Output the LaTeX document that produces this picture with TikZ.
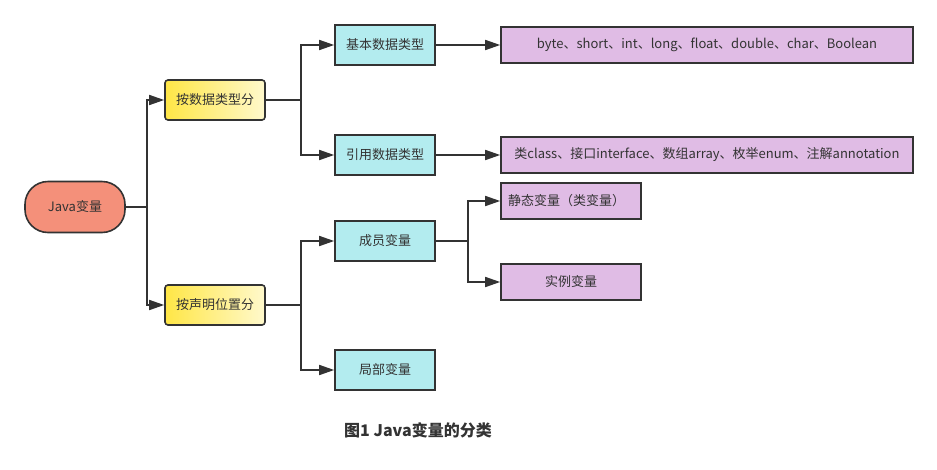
\documentclass[tikz,border=0pt]{standalone}
\usepackage{fontspec}
\setmainfont{Noto Sans CJK SC}
\usepackage{tikz}
\usetikzlibrary{arrows.meta,positioning}
\definecolor{lnc}{HTML}{333333}
\definecolor{rootc}{HTML}{F4907A}
\definecolor{ylwa}{HTML}{FFE646}
\definecolor{ylwb}{HTML}{FFF9CC}
\definecolor{cyanc}{HTML}{B3ECEF}
\definecolor{purpc}{HTML}{E0BCE5}

\tikzset{
  box/.style={draw=lnc,line width=1.6pt,minimum height=40pt,text=lnc,font=\fontsize{13}{15}\selectfont,inner sep=2pt},
  rootbox/.style={box,fill=rootc,rounded corners=23pt,minimum width=100pt,minimum height=51pt},
  catbox/.style={box,left color=ylwa,right color=ylwb,rounded corners=3pt,minimum width=100pt},
  kindbox/.style={box,fill=cyanc,minimum width=100pt},
  leafbox/.style={box,fill=purpc,minimum height=36pt},
  conn/.style={draw=lnc,line width=1.6pt,-{Triangle[length=15pt,width=10pt]}},
  link/.style={draw=lnc,line width=1.6pt}
}

\begin{document}
\begin{tikzpicture}[x=1pt,y=-1pt,line join=miter]
  \useasboundingbox (0,0) rectangle (937,469);
  % root and the two ways to sort
  \node[rootbox] (java) at (75,207) {Java变量};
  \node[catbox] (bytype) at (215,100) {按数据类型分};
  \node[catbox] (byplace) at (215,305) {按声明位置分};
  % kinds
  \node[kindbox] (basic) at (385,45) {基本数据类型};
  \node[kindbox] (refer) at (385,155) {引用数据类型};
  \node[kindbox] (member) at (385,241) {成员变量};
  \node[kindbox] (local) at (385,370) {局部变量};
  % leaves
  \node[leafbox,minimum width=412pt] (prim) at (707,45) {byte、short、int、long、float、double、char、Boolean};
  \node[leafbox,minimum width=412pt] (refs) at (707,155) {类class、接口interface、数组array、枚举enum、注解annotation};
  \node[leafbox,minimum width=140pt,text width=126pt,align=left] (static) at (571,201) {静态变量（类变量）};
  \node[leafbox,minimum width=140pt] (inst) at (571,282) {实例变量};
  % connectors
  \draw[link] (java.east) -- ++(21,0) coordinate (jfork);
  \draw[conn] (jfork) |- (bytype.west);
  \draw[conn] (jfork) |- (byplace.west);
  \draw[link] (bytype.east) -- ++(35,0) coordinate (tfork);
  \draw[conn] (tfork) |- (basic.west);
  \draw[conn] (tfork) |- (refer.west);
  \draw[link] (byplace.east) -- ++(35,0) coordinate (pfork);
  \draw[conn] (pfork) |- (member.west);
  \draw[conn] (pfork) |- (local.west);
  \draw[conn] (basic.east) -- (prim.west);
  \draw[conn] (refer.east) -- (refs.west);
  \draw[link] (member.east) -- ++(32,0) coordinate (mfork);
  \draw[conn] (mfork) |- (static.west);
  \draw[conn] (mfork) |- (inst.west);
  % caption
  \node[text=lnc,font=\bfseries\fontsize{16}{18}\selectfont] (cap) at (418,430) {图1 Java变量的分类};
\end{tikzpicture}
\end{document}
